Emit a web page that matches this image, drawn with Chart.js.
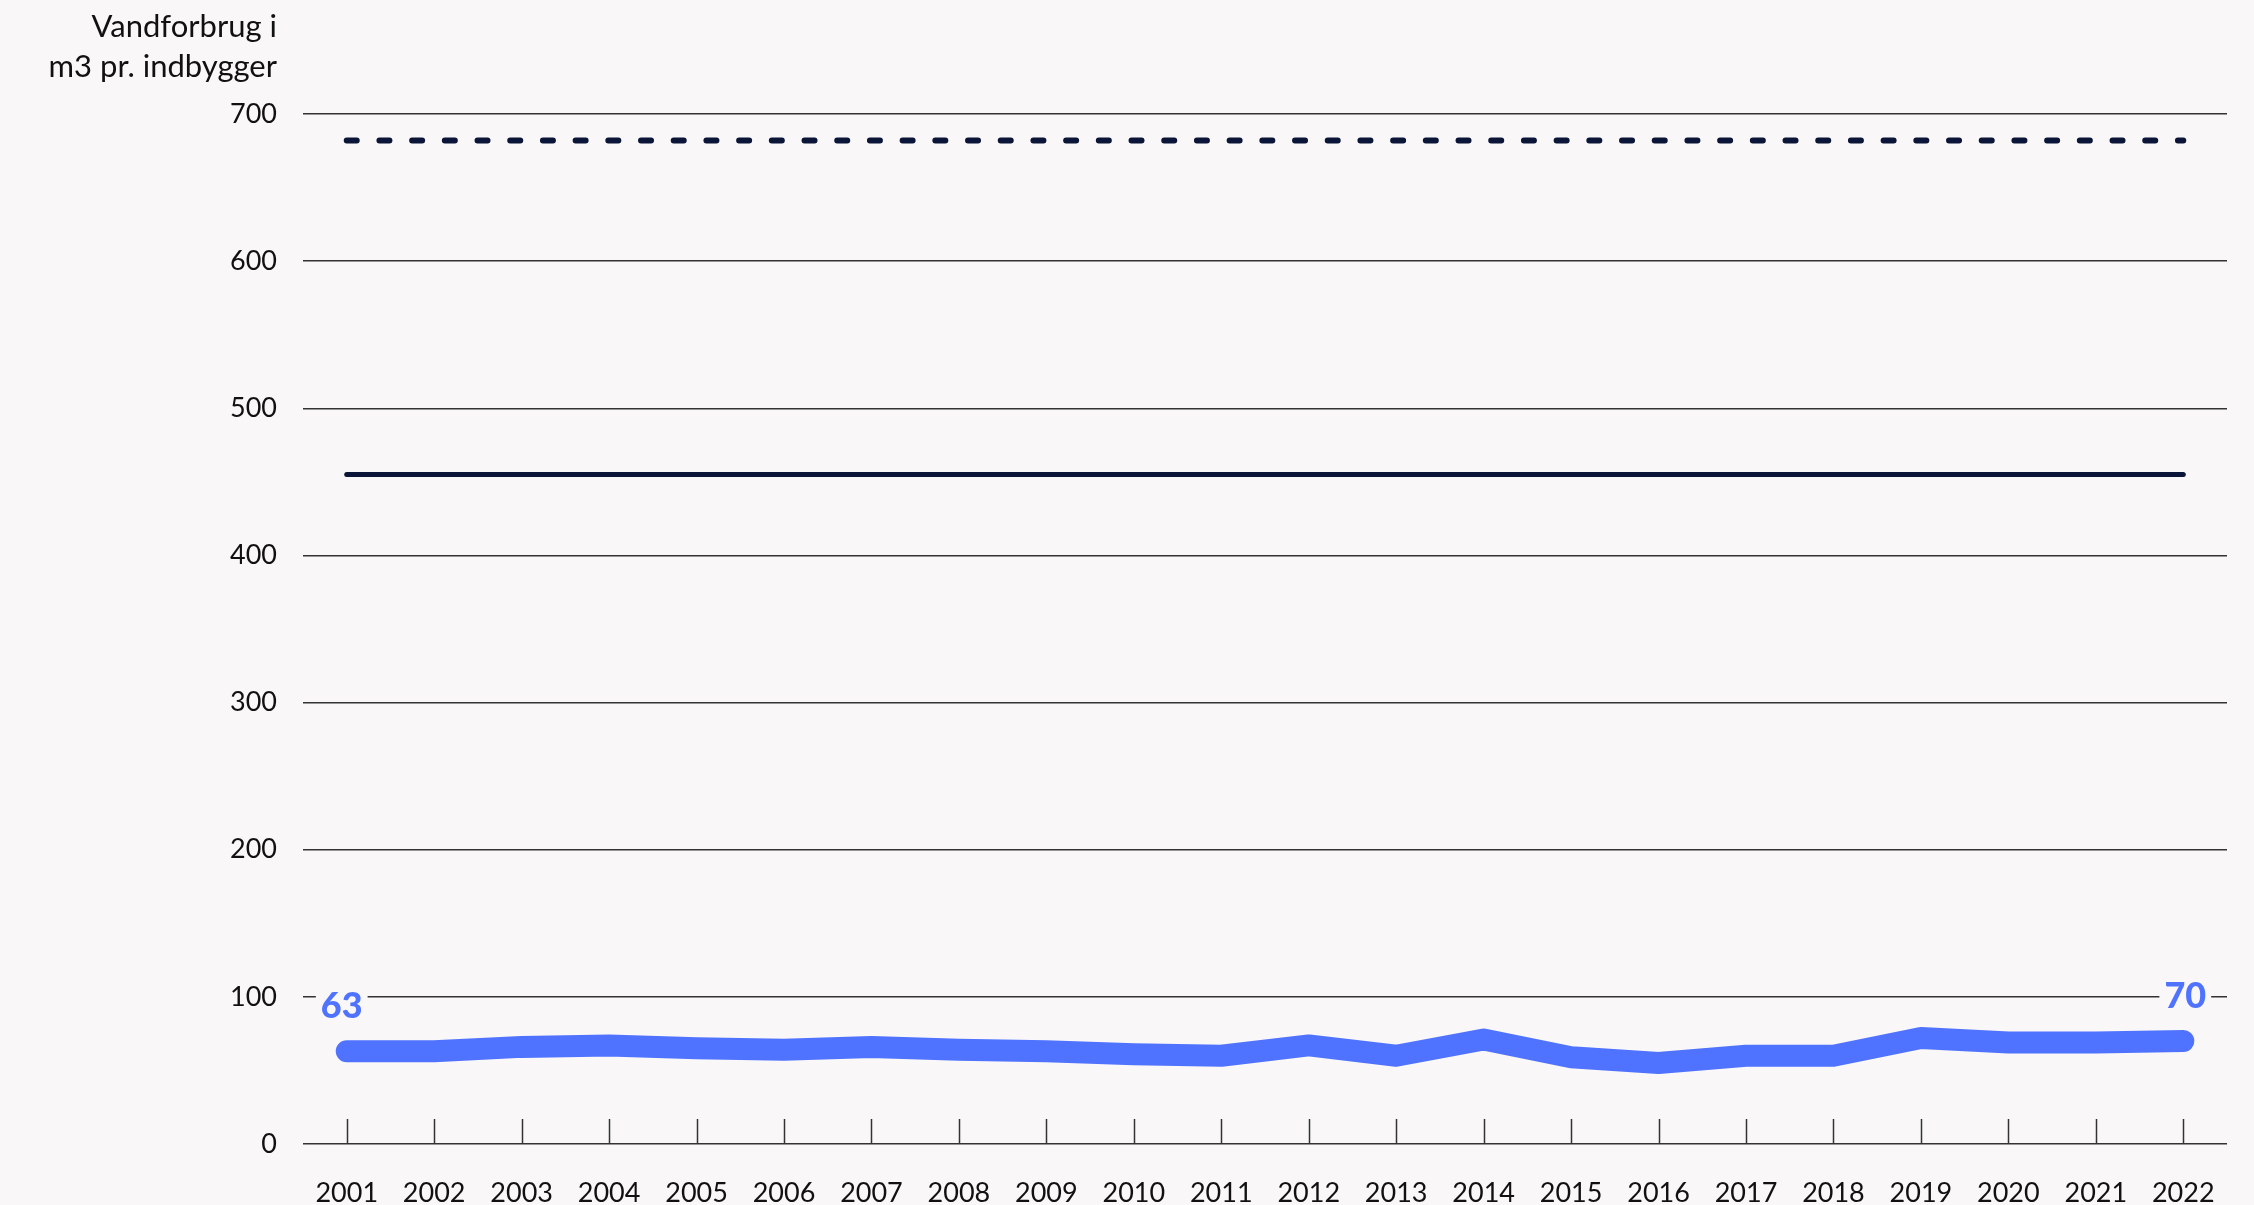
<!DOCTYPE html>
<html lang="da">
<head>
<meta charset="utf-8">
<title>Vandforbrug pr. indbygger</title>
<script src="https://cdn.jsdelivr.net/npm/chart.js@4.4.1/dist/chart.umd.min.js"></script>
<style>
  html, body { margin: 0; padding: 0; background: #f9f7f8; }
  canvas { display: block; }
</style>
</head>
<body>
<canvas id="waterChart" width="2254" height="1205"></canvas>
<script>
// Data
const years = ['2001', '2002', '2003', '2004', '2005', '2006', '2007', '2008', '2009', '2010', '2011',
               '2012', '2013', '2014', '2015', '2016', '2017', '2018', '2019', '2020', '2021', '2022'];
const perCitizen = [63, 63, 66, 67, 65, 64, 66, 64, 63, 61, 60, 67, 60, 71, 59, 55, 60, 60, 72, 69, 69, 70];
const dashedLine = [{ x: '2001', y: 682 }, { x: '2022', y: 682 }];
const solidLine = [{ x: '2001', y: 455 }, { x: '2022', y: 455 }];
const yTicks = [0, 100, 200, 300, 400, 500, 600, 700];
const axisTitle = ['Vandforbrug i', 'm3 pr. indbygger'];

const BG = '#f9f7f8';
const NAVY = '#0a1538';
const BLUE = '#4f73ff';
const INK = '#111111';
const GRID = '#333333';
const FONT = 'Lato';

// Y axis title in the top left corner, right aligned with the tick labels
const axisTitlePlugin = {
    id: 'axisTitle',
    afterDraw(chart) {
        const { ctx, scales: { y } } = chart;
        ctx.save();
        ctx.font = `31px ${FONT}`;
        ctx.fillStyle = INK;
        ctx.textAlign = 'right';
        ctx.textBaseline = 'alphabetic';
        axisTitle.forEach((line, i) => ctx.fillText(line, y.right - 26, 37 + i * 40));
        ctx.restore();
    }
};

// Short year ticks pointing up from the baseline
const yearTicksPlugin = {
    id: 'yearTicks',
    beforeDatasetsDraw(chart) {
        const { ctx, scales: { x, y } } = chart;
        const base = y.getPixelForValue(0);
        ctx.save();
        ctx.strokeStyle = GRID;
        ctx.lineWidth = 1.5;
        years.forEach((yr, i) => {
            const px = Math.round(x.getPixelForValue(i)) + 0.5;
            ctx.beginPath();
            ctx.moveTo(px, base);
            ctx.lineTo(px, base - 25);
            ctx.stroke();
        });
        ctx.restore();
    }
};

// Value labels at the first and last year of the blue series
const endLabelsPlugin = {
    id: 'endLabels',
    afterDatasetsDraw(chart) {
        const ctx = chart.ctx;
        const meta = chart.getDatasetMeta(2);
        ctx.save();
        ctx.font = `900 36px ${FONT}`;
        ctx.textAlign = 'center';
        ctx.textBaseline = 'middle';
        [0, perCitizen.length - 1].forEach((i, n) => {
            const pt = meta.data[i];
            const text = String(perCitizen[i]);
            const w = ctx.measureText(text).width;
            const cx = pt.x + (n === 0 ? -5 : 2);
            const cy = pt.y - 45;
            ctx.fillStyle = BG;
            ctx.fillRect(cx - w / 2 - 5, cy - 17, w + 10, 34);
            ctx.fillStyle = BLUE;
            ctx.fillText(text, cx, cy);
        });
        ctx.restore();
    }
};

const ctx = document.getElementById('waterChart').getContext('2d');
const waterChart = new Chart(ctx, {
    type: 'line',
    data: {
        labels: years,
        datasets: [
            {
                data: dashedLine,
                borderColor: NAVY,
                borderWidth: 6,
                borderDash: [10, 22.7],
                borderCapStyle: 'round',
                pointRadius: 0
            },
            {
                data: solidLine,
                borderColor: NAVY,
                borderWidth: 5,
                borderCapStyle: 'round',
                pointRadius: 0
            },
            {
                data: perCitizen,
                borderColor: BLUE,
                borderWidth: 22,
                borderCapStyle: 'round',
                borderJoinStyle: 'round',
                tension: 0,
                pointRadius: 0
            }
        ]
    },
    options: {
        responsive: false,
        animation: false,
        devicePixelRatio: 1,
        layout: {
            padding: { top: 114, right: 27, bottom: 0, left: 0 }
        },
        plugins: {
            legend: { display: false },
            tooltip: { enabled: false }
        },
        scales: {
            x: {
                offset: true,
                grid: { display: false },
                border: { display: false },
                ticks: {
                    color: INK,
                    font: { family: FONT, size: 27 },
                    padding: 25,
                    maxRotation: 0,
                    autoSkip: false
                },
                afterFit: (scale) => { scale.height = 61; }
            },
            y: {
                min: 0,
                max: 700,
                afterBuildTicks: (scale) => { scale.ticks = yTicks.map(v => ({ value: v })); },
                grid: { color: GRID, lineWidth: 1.5, drawTicks: false },
                border: { display: false },
                ticks: {
                    color: INK,
                    font: { family: FONT, size: 27 },
                    padding: 26
                },
                afterFit: (scale) => { scale.width = 303; }
            }
        }
    },
    plugins: [axisTitlePlugin, yearTicksPlugin, endLabelsPlugin]
});
</script>
</body>
</html>
